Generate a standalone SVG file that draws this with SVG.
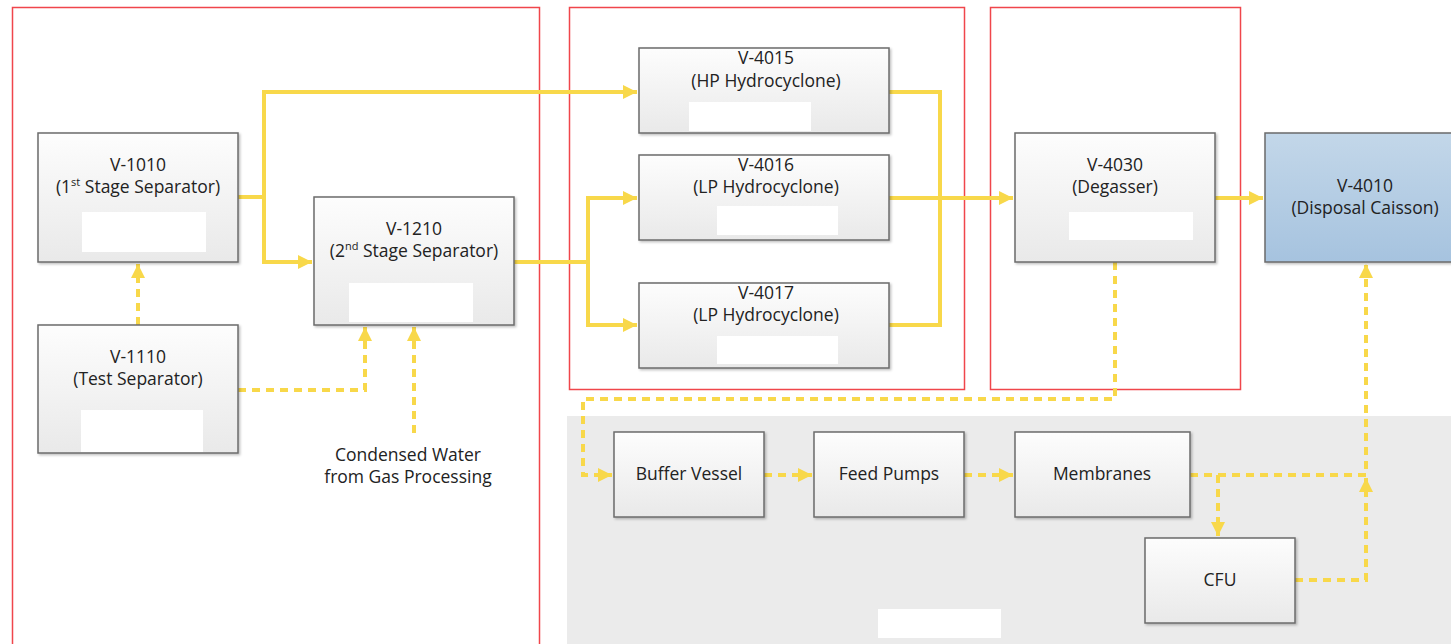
<svg xmlns="http://www.w3.org/2000/svg" width="1451" height="644" viewBox="0 0 1451 644">
<style>
.t{font-family:"Open Sans","Liberation Sans",sans-serif;font-size:17.5px;fill:#222;text-anchor:middle}
.node{fill:url(#g);stroke:#6b6b6b;stroke-width:1.5;filter:url(#sh)}
.blank{fill:#fff}
.zone{fill:none;stroke:#f0464b;stroke-width:1.5}
.c{fill:none;stroke:#f8d84a;stroke-width:4;stroke-linejoin:miter}
.d{fill:none;stroke:#f8d84a;stroke-width:4;stroke-dasharray:8 6}
</style>
<defs>
<linearGradient id="g" x1="0" y1="0" x2="0" y2="1"><stop offset="0" stop-color="#fdfdfd"/><stop offset="1" stop-color="#e9e9e9"/></linearGradient>
<linearGradient id="gb" x1="0" y1="0" x2="0" y2="1"><stop offset="0" stop-color="#c3d7e9"/><stop offset="1" stop-color="#a6c3df"/></linearGradient>
<filter id="sh" x="-5%" y="-5%" width="112%" height="115%"><feDropShadow dx="1.5" dy="1.5" stdDeviation="1" flood-color="#000" flood-opacity="0.25"/></filter>
<marker id="a" markerUnits="userSpaceOnUse" markerWidth="16" markerHeight="16" viewBox="0 0 16 16" refX="15" refY="8" orient="auto"><path d="M1,1 L15,8 L1,15 Z" fill="#f8d84a"/></marker>
</defs>
<rect width="1451" height="644" fill="#fff"/>
<rect x="567" y="416" width="884" height="228" fill="#ebebeb"/>
<rect x="878" y="609" width="123" height="29" fill="#fff"/>
<g id="zones">
<rect class="zone" x="12.5" y="7.5" width="527" height="660"/>
<rect class="zone" x="569.5" y="7.5" width="395" height="382"/>
<rect class="zone" x="990.5" y="7.5" width="250" height="382"/>
</g>
<g id="connectors">
<polyline class="c" points="238,197 264,197 264,92 637,92" marker-end="url(#a)"/>
<polyline class="c" points="264,197 264,262 312,262" marker-end="url(#a)"/>
<polyline class="c" points="514,262 588,262 588,198 637,198" marker-end="url(#a)"/>
<polyline class="c" points="588,262 588,325 637,325" marker-end="url(#a)"/>
<polyline class="c" points="889,92 940,92 940,325 889,325"/>
<polyline class="c" points="889,198 1013,198" marker-end="url(#a)"/>
<polyline class="c" points="1215,198 1263,198" marker-end="url(#a)"/>
<polyline class="d" points="138,325 138,264" marker-end="url(#a)"/>
<polyline class="d" points="238,390 365,390 365,327" marker-end="url(#a)"/>
<polyline class="d" points="414,433 414,327" marker-end="url(#a)"/>
<polyline class="d" points="1115,262 1115,399 583,399 583,475 612,475" marker-end="url(#a)"/>
<polyline class="d" points="764,475 812,475" marker-end="url(#a)"/>
<polyline class="d" points="964,475 1013,475" marker-end="url(#a)"/>
<polyline class="d" points="1190,475 1366,475 1366,264" marker-end="url(#a)"/>
<polyline class="d" points="1218,475 1218,536" marker-end="url(#a)"/>
<polyline class="d" points="1295,580 1366,580 1366,478" marker-end="url(#a)"/>
</g>
<g id="v1010">
<rect class="node" x="38" y="133" width="200" height="129"/>
<rect class="blank" x="82" y="212" width="124" height="40"/>
<text class="t" x="138" y="171">V-1010</text>
<text class="t" x="138" y="193">(1<tspan font-size="11" dy="-7">st</tspan><tspan dy="7"> Stage Separator)</tspan></text>
</g>
<g id="v1110">
<rect class="node" x="38" y="325" width="200" height="128"/>
<rect class="blank" x="81" y="410" width="122" height="42"/>
<text class="t" x="138" y="363">V-1110</text>
<text class="t" x="138" y="385">(Test Separator)</text>
</g>
<g id="v1210">
<rect class="node" x="314" y="197" width="200" height="128"/>
<rect class="blank" x="349" y="283" width="124" height="39"/>
<text class="t" x="414" y="235">V-1210</text>
<text class="t" x="414" y="257">(2<tspan font-size="11" dy="-7">nd</tspan><tspan dy="7"> Stage Separator)</tspan></text>
</g>
<g id="condensed">
<text class="t" x="408" y="461">Condensed Water</text>
<text class="t" x="408" y="483">from Gas Processing</text>
</g>
<g id="v4015">
<rect class="node" x="639" y="48" width="250" height="85"/>
<rect class="blank" x="689" y="102" width="122" height="29"/>
<text class="t" x="766" y="64">V-4015</text>
<text class="t" x="766" y="87">(HP Hydrocyclone)</text>
</g>
<g id="v4016">
<rect class="node" x="639" y="155" width="250" height="85"/>
<rect class="blank" x="717" y="206" width="121" height="29"/>
<text class="t" x="766" y="171">V-4016</text>
<text class="t" x="766" y="193">(LP Hydrocyclone)</text>
</g>
<g id="v4017">
<rect class="node" x="639" y="283" width="250" height="85"/>
<rect class="blank" x="717" y="336" width="121" height="28"/>
<text class="t" x="766" y="299">V-4017</text>
<text class="t" x="766" y="321">(LP Hydrocyclone)</text>
</g>
<g id="v4030">
<rect class="node" x="1015" y="133" width="200" height="129"/>
<rect class="blank" x="1069" y="212" width="124" height="28"/>
<text class="t" x="1115" y="171">V-4030</text>
<text class="t" x="1115" y="193">(Degasser)</text>
</g>
<g id="v4010">
<rect x="1265" y="133" width="200" height="129" fill="url(#gb)" stroke="#6b6b6b" stroke-width="1.5" filter="url(#sh)"/>
<text class="t" x="1365" y="192">V-4010</text>
<text class="t" x="1365" y="214">(Disposal Caisson)</text>
</g>
<g id="buffer">
<rect class="node" x="614" y="432" width="150" height="85"/>
<text class="t" x="689" y="480">Buffer Vessel</text>
</g>
<g id="feed">
<rect class="node" x="814" y="432" width="150" height="85"/>
<text class="t" x="889" y="480">Feed Pumps</text>
</g>
<g id="membranes">
<rect class="node" x="1015" y="432" width="175" height="85"/>
<text class="t" x="1102" y="480">Membranes</text>
</g>
<g id="cfu">
<rect class="node" x="1145" y="538" width="150" height="85"/>
<text class="t" x="1220" y="586">CFU</text>
</g>
</svg>
